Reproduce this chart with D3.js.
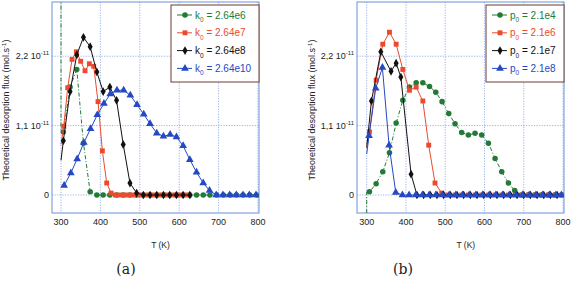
<!DOCTYPE html>
<html>
<head>
<meta charset="utf-8">
<script src="https://cdnjs.cloudflare.com/ajax/libs/d3/7.8.5/d3.min.js"></script>
<style>
  body { margin: 0; background: #fff; }
  svg { display: block; }
</style>
</head>
<body>
<div id="chart"></div>
<script>
// Axis ticks
const tempTicks = [300, 400, 500, 600, 700, 800];
const fluxTicks = [0, 1.1, 2.2];
const fluxTickText = ["0", "1,1 10", "2,2 10"];

// Panel (a): k0 series (flux in 1e-11 mol/s)
const k0Labels = ["2.64e6", "2.64e7", "2.64e8", "2.64e10"];
const aGreenT = [300, 300, 306, 323, 340, 357, 374, 391, 407, 424, 441, 458, 475, 492, 509, 526, 543, 560, 576, 593, 610, 627, 644, 661, 678, 695, 712, 729, 745, 762, 779, 796];
const aGreenV = [4.0, 1.0, 1.0, 1.71, 1.99, 0.82, 0.05, 0, 0, 0, 0, 0, 0, 0, 0, 0, 0, 0, 0, 0, 0, 0, 0, 0, 0, 0, 0, 0, 0, 0, 0, 0];
const aRedT = [300, 307, 317, 328, 339, 350, 361, 372, 383, 394, 405, 416, 427, 438, 449, 460, 471, 482, 493, 504, 515, 526, 537, 548, 559, 570, 581, 592, 603, 614, 625];
const aRedV = [0.8, 1.09, 1.70, 2.15, 2.27, 2.12, 1.97, 2.08, 2.04, 1.48, 0.70, 0.19, 0.03, 0, 0, 0, 0, 0, 0, 0, 0, 0, 0, 0, 0, 0, 0, 0, 0, 0, 0];
const aBlackT = [300, 306, 323, 340, 357, 374, 391, 407, 424, 441, 458, 475, 492, 509, 526, 543, 560, 576, 593, 610, 627];
const aBlackV = [0.55, 0.86, 1.64, 2.22, 2.50, 2.35, 1.95, 1.64, 1.71, 1.50, 0.80, 0.19, 0.03, 0, 0, 0, 0, 0, 0, 0, 0];
const aBlueT = [308, 325, 341, 358, 375, 392, 409, 425, 442, 459, 476, 493, 510, 526, 543, 560, 577, 593, 610, 627, 644, 661, 677, 694, 711, 728, 745, 762, 778, 795];
const aBlueV = [0.15, 0.35, 0.57, 0.83, 1.05, 1.27, 1.45, 1.60, 1.66, 1.66, 1.58, 1.43, 1.28, 1.13, 0.98, 0.93, 0.96, 0.92, 0.78, 0.56, 0.36, 0.19, 0.07, 0, 0, 0, 0, 0, 0, 0];

// Panel (b): p0 series
const p0Labels = ["2.1e4", "2.1e6", "2.1e7", "2.1e8"];
const bGreenT = [300, 300, 307, 324, 341, 358, 375, 392, 409, 426, 443, 460, 476, 492, 509, 525, 542, 559, 576, 593, 610, 627, 644, 661, 677, 694, 711, 728, 745, 762, 779, 796];
const bGreenV = [-1, 0.05, 0.05, 0.18, 0.37, 0.67, 1.14, 1.50, 1.71, 1.78, 1.78, 1.72, 1.63, 1.48, 1.29, 1.13, 0.99, 0.95, 0.98, 0.95, 0.82, 0.58, 0.37, 0.19, 0.07, 0, 0, 0, 0, 0, 0, 0];
const bRedT = [300, 307, 324, 341, 358, 375, 392, 409, 426, 443, 458, 474, 491, 508, 525, 542, 559, 576, 593, 610, 627, 644, 661, 678, 695, 712, 729, 746, 763, 780, 797];
const bRedV = [0.8, 1.0, 1.82, 2.39, 2.58, 2.39, 1.99, 1.66, 1.71, 1.49, 0.79, 0.19, 0.03, 0, 0, 0, 0, 0, 0, 0, 0, 0, 0, 0, 0, 0, 0, 0, 0, 0, 0];
const bBlackT = [300, 312, 336, 362, 375, 387, 413, 428, 445, 462, 479, 496, 513, 530, 547, 564, 581, 598, 615, 632, 649, 666, 683, 700, 717, 734, 751, 768, 785];
const bBlackV = [0.75, 1.49, 2.27, 1.96, 2.09, 1.87, 0.33, 0, 0, 0, 0, 0, 0, 0, 0, 0, 0, 0, 0, 0, 0, 0, 0, 0, 0, 0, 0, 0, 0];
const bBlueT = [300, 306, 323, 340, 357, 374, 391, 408, 425, 442, 459, 476, 493, 510, 527, 544, 561, 578, 595, 612, 629, 646, 663, 680, 697, 714, 731, 748, 765, 782, 796];
const bBlueV = [0.65, 0.94, 1.69, 2.02, 0.79, 0.04, 0, 0, 0, 0, 0, 0, 0, 0, 0, 0, 0, 0, 0, 0, 0, 0, 0, 0, 0, 0, 0, 0, 0, 0, 0];

const colors = ["#237a36", "#ec4a2e", "#111111", "#2449c4"];
const symbols = [d3.symbolCircle, d3.symbolSquare, d3.symbolDiamond, d3.symbolTriangle];
const symbolSizes = [24, 24, 22, 26];
const dashes = ["4,2,1,2", null, null, null];

const width = 577, height = 285;
const svg = d3.select("#chart").append("svg")
    .attr("width", width)
    .attr("height", height);

const font = "Arial, 'Liberation Sans', sans-serif";

function zip(ts, vs) {
    return ts.map((t, i) => ({t: t, v: vs[i]}));
}

function drawPanel(opt) {
    let x = d3.scaleLinear().domain([300, 800]).range([opt.x300, opt.x800]);
    let y = d3.scaleLinear().domain([0, 2.2]).range([195, 56.2]);
    let left = opt.left, right = opt.x800 + 1, top = 2, bottom = 213;

    let g = svg.append("g");

    // clip for the data
    svg.append("clipPath").attr("id", "clip" + opt.id)
        .append("rect")
        .attr("x", left).attr("y", top)
        .attr("width", right - left).attr("height", bottom - top);

    // dotted grid
    g.selectAll(".vgrid")
        .data(tempTicks)
        .enter().append("line")
        .attr("x1", d => x(d)).attr("x2", d => x(d))
        .attr("y1", top).attr("y2", bottom)
        .attr("stroke", "#7d9fe4")
        .attr("stroke-width", 0.8)
        .attr("stroke-dasharray", "1.2,1.4");
    g.selectAll(".hgrid")
        .data(fluxTicks)
        .enter().append("line")
        .attr("x1", left).attr("x2", right)
        .attr("y1", d => y(d)).attr("y2", d => y(d))
        .attr("stroke", "#7d9fe4")
        .attr("stroke-width", 0.8)
        .attr("stroke-dasharray", "1.2,1.4");

    // frame
    g.append("rect")
        .attr("x", left).attr("y", top)
        .attr("width", right - left).attr("height", bottom - top)
        .attr("fill", "none")
        .attr("stroke", "#6b91d8")
        .attr("stroke-width", 1);

    // tick labels
    g.selectAll(".xt")
        .data(tempTicks)
        .enter().append("text")
        .attr("x", d => x(d))
        .attr("y", 225)
        .attr("text-anchor", "middle")
        .style("font-family", font)
        .style("font-size", "9px")
        .attr("fill", "#222")
        .text(d => d);

    let yt = g.selectAll(".yt")
        .data(fluxTicks)
        .enter().append("text")
        .attr("x", opt.left - 3)
        .attr("y", d => y(d) + 3)
        .attr("text-anchor", "end")
        .style("font-family", font)
        .style("font-size", "9px")
        .attr("fill", "#222");
    yt.append("tspan").text((d, i) => fluxTickText[i]);
    yt.append("tspan")
        .attr("dy", -4)
        .style("font-size", "6px")
        .text((d, i) => i > 0 ? "-11" : "");

    // axis titles
    g.append("text")
        .attr("x", (opt.x300 + opt.x800) / 2 + 1)
        .attr("y", 248)
        .attr("text-anchor", "middle")
        .style("font-family", font)
        .style("font-size", "8.5px")
        .attr("fill", "#222")
        .text("T (K)");

    let yl = g.append("text")
        .attr("transform", `translate(${opt.ylabX},110) rotate(-90)`)
        .attr("text-anchor", "middle")
        .style("font-family", font)
        .style("font-size", "9px")
        .attr("fill", "#222");
    yl.append("tspan").text("Theoretical desorption flux (mol.s");
    yl.append("tspan").attr("dy", -3.5).style("font-size", "6px").text("-1");
    yl.append("tspan").attr("dy", 3.5).text(")");

    // caption
    g.append("text")
        .attr("x", opt.capX)
        .attr("y", 274)
        .attr("text-anchor", "middle")
        .style("font-family", "'DejaVu Serif', 'Liberation Serif', serif")
        .style("font-size", "14px")
        .attr("fill", "#222")
        .text(opt.caption);

    // series
    let line = d3.line().x(d => x(d.t)).y(d => y(d.v));
    let plot = g.append("g").attr("clip-path", `url(#clip${opt.id})`);

    opt.series.forEach((s, i) => {
        plot.append("path")
            .datum(s)
            .attr("d", line)
            .attr("fill", "none")
            .attr("stroke", colors[i])
            .attr("stroke-width", 1)
            .attr("stroke-dasharray", dashes[i]);

        // lead-in points at T=300 have no marker
        plot.selectAll(".m" + i)
            .data(s.filter(d => d.t > 300))
            .enter().append("path")
            .attr("d", d3.symbol().type(symbols[i]).size(symbolSizes[i]))
            .attr("transform", d => `translate(${x(d.t)},${y(d.v)})`)
            .attr("fill", colors[i]);
    });

    // legend
    let lg = g.append("g");
    lg.append("rect")
        .attr("x", opt.legX).attr("y", top + 3)
        .attr("width", right - opt.legX).attr("height", 77)
        .attr("fill", "#fff")
        .attr("stroke", "#6e3a30")
        .attr("stroke-width", 1);

    opt.labels.forEach((lab, i) => {
        let ly = 15 + i * 17.8;
        lg.append("line")
            .attr("x1", opt.legX + 6).attr("x2", opt.legX + 21)
            .attr("y1", ly).attr("y2", ly)
            .attr("stroke", colors[i])
            .attr("stroke-width", 1);
        lg.append("path")
            .attr("d", d3.symbol().type(symbols[i]).size(symbolSizes[i]))
            .attr("transform", `translate(${opt.legX + 14},${ly})`)
            .attr("fill", colors[i]);
        let t = lg.append("text")
            .attr("x", opt.legX + 24)
            .attr("y", ly + 3.5)
            .style("font-family", font)
            .style("font-size", "10px")
            .attr("fill", colors[i]);
        t.append("tspan").text(opt.sym);
        t.append("tspan").attr("dy", 3.5).style("font-size", "6.5px").text("0");
        t.append("tspan").attr("dy", -3.5).text(" = " + lab);
    });
}

drawPanel({
    id: "a", left: 52, x300: 61, x800: 258, ylabX: 9, capX: 126, caption: "(a)",
    legX: 171, sym: "k", labels: k0Labels,
    series: [zip(aGreenT, aGreenV), zip(aRedT, aRedV), zip(aBlackT, aBlackV), zip(aBlueT, aBlueV)]
});

drawPanel({
    id: "b", left: 357, x300: 366.7, x800: 563, ylabX: 315, capX: 403, caption: "(b)",
    legX: 486, sym: "p", labels: p0Labels,
    series: [zip(bGreenT, bGreenV), zip(bRedT, bRedV), zip(bBlackT, bBlackV), zip(bBlueT, bBlueV)]
});
</script>
</body>
</html>
